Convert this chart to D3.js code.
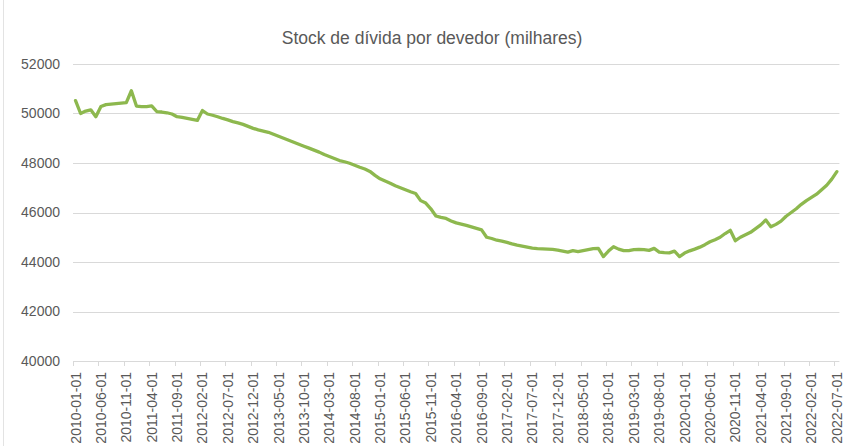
<!DOCTYPE html>
<html><head><meta charset="utf-8">
<script src="https://cdn.jsdelivr.net/npm/d3@7"></script>
<style>body{margin:0;background:#fff}svg{display:block}</style>
</head><body><svg id="c" width="844" height="446"></svg>
<script>
const title = "Stock de dívida por devedor (milhares)";
const startMonth = "2010-01";
const values = [
50520,50000,50100,50150,49870,50280,50360,50380,50400,50420,
50440,50920,50300,50280,50280,50310,50080,50060,50030,49980,
49870,49840,49800,49760,49720,50120,49980,49930,49870,49800,
49740,49670,49620,49560,49480,49400,49340,49290,49240,49160,
49080,49000,48920,48840,48760,48680,48600,48520,48440,48340,
48260,48180,48100,48050,47990,47910,47830,47760,47660,47500,
47360,47270,47180,47080,47000,46920,46840,46770,46480,46380,
46150,45860,45800,45760,45660,45580,45530,45480,45420,45360,
45300,45000,44950,44880,44840,44790,44730,44680,44640,44600,
44560,44540,44530,44520,44510,44480,44440,44400,44460,44420,
44460,44500,44540,44550,44220,44440,44620,44520,44460,44460,
44500,44510,44500,44470,44550,44400,44380,44370,44440,44220,
44360,44450,44520,44600,44700,44820,44900,45000,45150,45280,
44860,45000,45100,45200,45350,45500,45700,45420,45520,45650,
45850,46000,46150,46330,46480,46610,46740,46920,47100,47350,
47650];
const yTicks = [40000,42000,44000,46000,48000,50000,52000];

// month category labels
const categories = values.map((_, i) => {
  const yr = 2010 + Math.floor(i / 12), m = i % 12 + 1;
  return `${yr}-${String(m).padStart(2,"0")}-01`;
});
const labelEvery = 5;

const svg = d3.select("#c");
const grid = "#d9d9d9", txt = "#595959";
const mLeft = 73, mRight = 839.4, mTop = 64, mBottom = 361;

svg.append("line").attr("x1",3.5).attr("x2",3.5).attr("y1",0).attr("y2",446).attr("stroke","#e3e3e3");

const x = d3.scaleBand().domain(categories).range([mLeft, mRight]).padding(0);
const y = d3.scaleLinear().domain([40000, 52000]).range([mBottom, mTop]);

// gridlines
svg.append("g").selectAll("line").data(yTicks.slice(1)).join("line")
  .attr("x1", mLeft).attr("x2", mRight)
  .attr("y1", d => Math.round(y(d)) + 0.5).attr("y2", d => Math.round(y(d)) + 0.5)
  .attr("stroke", grid).attr("stroke-width", 1);

// y labels
svg.append("g").selectAll("text").data(yTicks).join("text")
  .attr("x", 60).attr("y", d => y(d)).attr("dy", "0.35em")
  .attr("text-anchor", "end").attr("font-family", "Liberation Sans, Arial, sans-serif")
  .attr("font-size", 14).attr("fill", txt).text(d => d);

// x axis line & ticks
svg.append("line").attr("x1", mLeft).attr("x2", mRight)
  .attr("y1", Math.round(y(40000)) + 0.5).attr("y2", Math.round(y(40000)) + 0.5)
  .attr("stroke", grid);
const tickCats = categories.filter((_, i) => i % labelEvery === 0);
svg.append("g").selectAll("line").data(tickCats).join("line")
  .attr("x1", d => Math.round(x(d)) + 0.5).attr("x2", d => Math.round(x(d)) + 0.5)
  .attr("y1", mBottom).attr("y2", mBottom + 5).attr("stroke", grid);
svg.append("g").selectAll("text").data(tickCats).join("text")
  .attr("transform", d => `translate(${x(d) + x.bandwidth()/2 + 5},372) rotate(-90)`)
  .attr("text-anchor", "end")
  .attr("font-family", "Liberation Sans, Arial, sans-serif")
  .attr("font-size", 14).attr("fill", txt).text(d => d);

// line
const line = d3.line().x((d, i) => x(categories[i]) + x.bandwidth()/2).y(d => y(d));
svg.append("path").datum(values).attr("d", line)
  .attr("fill", "none").attr("stroke", "#8db84e").attr("stroke-width", 3.3)
  .attr("stroke-linejoin", "round").attr("stroke-linecap", "round");

// title
svg.append("text").attr("x", 432).attr("y", 44).attr("text-anchor", "middle")
  .attr("font-family", "Liberation Sans, Arial, sans-serif").attr("font-size", 17.5)
  .attr("fill", txt).text(title);
</script></body></html>
